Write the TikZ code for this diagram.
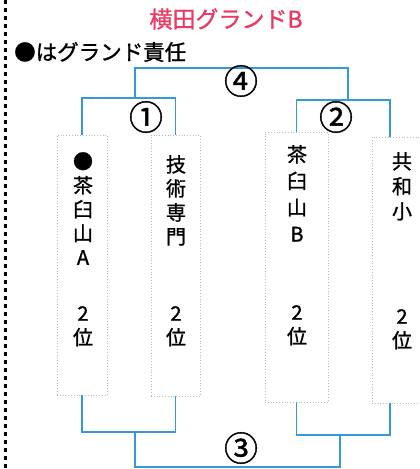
\documentclass[tikz,border=0pt]{standalone}
\usepackage{fontspec}
\newfontfamily\jpfont[FakeBold=1.2]{Noto Sans CJK JP}
\definecolor{linkblue}{RGB}{52,152,219}
\definecolor{titlered}{RGB}{232,58,98}
\tikzset{
  teambox/.style={draw=gray!55, dotted, line width=0.8pt, inner sep=0pt},
  teamname/.style={font=\jpfont\fontsize{20}{24}\selectfont, align=center, anchor=north, inner sep=0pt},
  bracket/.style={draw=linkblue, line width=1.4pt},
  matchno/.style={font=\jpfont\fontsize{34}{34}\selectfont, inner sep=0pt},
}
\begin{document}
\begin{tikzpicture}[x=1pt, y=-1pt]
  \useasboundingbox (0,0) rectangle (420,469);
  % left margin rule
  \draw[line width=3pt, dash pattern=on 3.5pt off 4.5pt] (5,0) -- (5,469);
  \node[font=\jpfont\fontsize{23}{23}\selectfont, text=titlered] (title) at (226,19) {横田グランドB};
  \node[font=\jpfont\fontsize{21.5}{21.5}\selectfont, anchor=west, inner sep=0pt] (note) at (14,52) {●はグランド責任};
  % team boxes
  \node[teambox, minimum width=50pt, minimum height=260pt] (b1) at (82,265) {};
  \node[teambox, minimum width=49pt, minimum height=261pt] (b2) at (175.5,265.5) {};
  \node[teambox, minimum width=63pt, minimum height=270pt] (b3) at (296.5,267) {};
  \node[teambox, minimum width=53pt, minimum height=266pt] (b4) at (398.5,270) {};
  % team names and ranks
  \node[teamname] (n1) at (83,152) {●\\茶\\臼\\山\\A};
  \node[teamname] (n2) at (176,155) {技\\術\\専\\門};
  \node[teamname, font=\jpfont\fontsize{20}{26.5}\selectfont] (n3) at (297,145) {茶\\臼\\山\\B};
  \node[teamname, font=\jpfont\fontsize{20}{25}\selectfont] (n4) at (402,152) {共\\和\\小};
  \node[teamname] (r1) at (83,306) {2\\位};
  \node[teamname] (r2) at (176,306) {2\\位};
  \node[teamname] (r3) at (297,305) {2\\位};
  \node[teamname] (r4) at (402,309) {2\\位};
  % bracket joints
  \coordinate (m1) at (135,98);
  \coordinate (m2) at (348,100);
  \coordinate (m4) at (240,68);
  \coordinate (m3l) at (135,432);
  \coordinate (m3r) at (340,435);
  \coordinate (m3) at (240,467);
  \draw[bracket] (b1.north) |- (m1) -| (b2.north);
  \draw[bracket] (b3.north) |- (m2) -| ([xshift=-8.5pt]b4.north);
  \draw[bracket] (m1) |- (m4) -| (m2);
  \draw[bracket] (b1.south) |- (m3l) -| (b2.south);
  \draw[bracket] (b3.south) |- (m3r) -| ([xshift=-8.5pt]b4.south);
  \draw[bracket] (m3l) |- (m3) -| (m3r);
  % match numbers
  \node[matchno] (k1) at (146,117) {①};
  \node[matchno] (k2) at (336,117) {②};
  \node[matchno] (k3) at (241,448) {③};
  \node[matchno] (k4) at (241,81) {④};
\end{tikzpicture}
\end{document}
